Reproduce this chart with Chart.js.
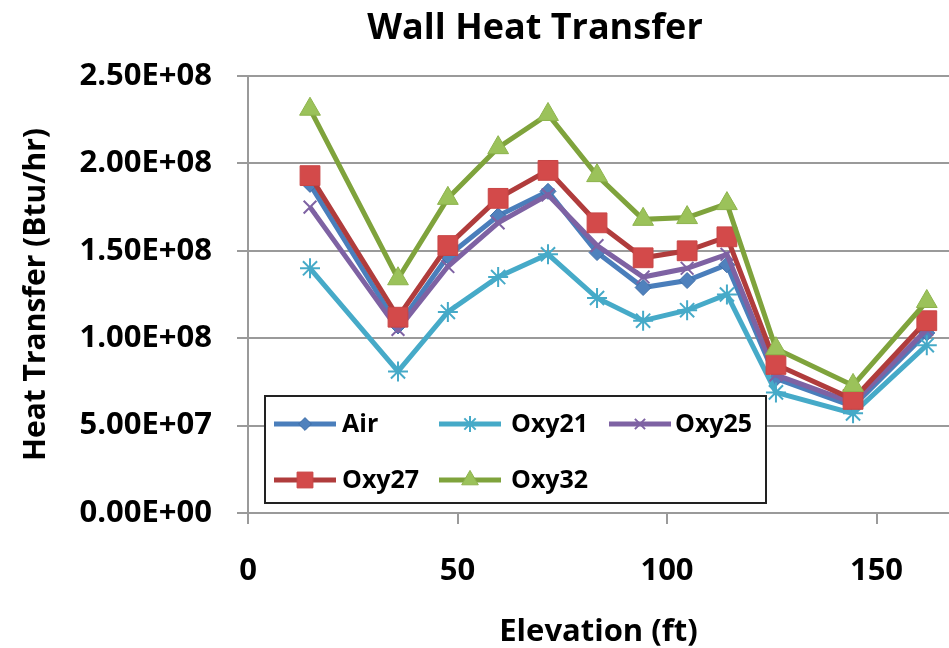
<!DOCTYPE html>
<html>
<head>
<meta charset="utf-8">
<script src="https://cdn.jsdelivr.net/npm/chart.js@4.4.1/dist/chart.umd.min.js"></script>
<style>
  body { margin: 0; background: #fff; }
  #wrap { width: 949px; height: 648px; }
</style>
</head>
<body>
<div id="wrap"><canvas id="wallHeat"></canvas></div>
<script>
const cvsWall = document.getElementById("wallHeat");

// elevation (ft) of each measuring point
const elevacao = [14.8, 35.8, 47.7, 59.7, 71.6, 83.3, 94.3, 104.8, 114.3, 126.0, 144.4, 162.0];

// heat transfer (Btu/hr) per case
const air   = [1.88e8, 1.07e8, 1.47e8, 1.70e8, 1.84e8, 1.49e8, 1.29e8, 1.33e8, 1.42e8, 0.77e8, 0.61e8, 1.03e8];
const oxy21 = [1.40e8, 0.81e8, 1.15e8, 1.35e8, 1.48e8, 1.23e8, 1.10e8, 1.16e8, 1.25e8, 0.69e8, 0.57e8, 0.96e8];
const oxy25 = [1.75e8, 1.05e8, 1.41e8, 1.66e8, 1.82e8, 1.53e8, 1.35e8, 1.40e8, 1.48e8, 0.79e8, 0.63e8, 1.05e8];
const oxy27 = [1.93e8, 1.12e8, 1.53e8, 1.80e8, 1.96e8, 1.66e8, 1.46e8, 1.50e8, 1.58e8, 0.85e8, 0.65e8, 1.10e8];
const oxy32 = [2.31e8, 1.34e8, 1.80e8, 2.09e8, 2.28e8, 1.93e8, 1.68e8, 1.69e8, 1.77e8, 0.94e8, 0.73e8, 1.21e8];

const nomes = ["Air", "Oxy21", "Oxy25", "Oxy27", "Oxy32"];
const titulo = "Wall Heat Transfer";

const FONTE = "'Open Sans'";

const pares = (ys) => ys.map((y, i) => ({ x: elevacao[i], y }));

// 2.50E+08 style
const sci = (v) => {
  const [m, e] = Number(v).toExponential(2).split("e");
  return m + "E" + e[0] + e.slice(1).padStart(2, "0");
};

// title sits a bit right of the canvas centre in the original
const tituloTopo = {
  id: "tituloTopo",
  afterDraw(chart) {
    const { ctx } = chart;
    ctx.save();
    ctx.fillStyle = "#000";
    ctx.font = "bold 36px " + FONTE;
    ctx.textAlign = "center";
    ctx.textBaseline = "middle";
    ctx.fillText(titulo, 535, 29);
    ctx.restore();
  }
};

// legend drawn inside the plot, like the excel one
const legendaBox = {
  id: "legendaBox",
  afterDraw(chart) {
    const { ctx } = chart;
    const box = { x: 265, y: 396, w: 501, h: 107 };
    ctx.save();
    ctx.fillStyle = "#fff";
    ctx.fillRect(box.x, box.y, box.w, box.h);
    ctx.lineWidth = 2;
    ctx.strokeStyle = "#222";
    ctx.strokeRect(box.x, box.y, box.w, box.h);

    // [line start, text start, y]
    const slots = [
      [274, 342, 424], [439, 511, 424], [609, 675, 424],
      [274, 342, 480], [439, 511, 480],
    ];
    chart.data.datasets.forEach((ds, i) => {
      const [sx, tx, sy] = slots[i];
      ctx.strokeStyle = ds.borderColor;
      ctx.lineWidth = 5;
      ctx.beginPath();
      ctx.moveTo(sx, sy);
      ctx.lineTo(sx + 62, sy);
      ctx.stroke();

      ctx.fillStyle = ds.pointBackgroundColor;
      ctx.strokeStyle = ds.pointBorderColor;
      ctx.lineWidth = ds.pointBorderWidth;
      Chart.helpers.drawPoint(ctx, {
        pointStyle: ds.pointStyle,
        radius: ds.pointRadius * 0.8,
        borderWidth: ds.pointBorderWidth,
        rotation: 0,
      }, sx + 31, sy);

      ctx.fillStyle = "#000";
      ctx.font = "bold 25px " + FONTE;
      ctx.textBaseline = "middle";
      ctx.fillText(ds.label, tx, sy + 1);
    });
    ctx.restore();
  }
};

new Chart(cvsWall, {
  type: "line",
  plugins: [legendaBox, tituloTopo],
  data: {
    datasets: [
      {
        label: nomes[0],
        data: pares(air),
        borderColor: "#4a7ebb",
        borderWidth: 5,
        pointStyle: "rectRot",
        pointRadius: 8,
        pointBackgroundColor: "#4f81bd",
        pointBorderColor: "#3f6fa8",
        pointBorderWidth: 1,
        order: 5,
      },
      {
        label: nomes[1],
        data: pares(oxy21),
        borderColor: "#46aac8",
        borderWidth: 5,
        pointStyle: "star",
        pointRadius: 10,
        pointBackgroundColor: "#46aac8",
        pointBorderColor: "#46aac8",
        pointBorderWidth: 2,
        order: 4,
      },
      {
        label: nomes[2],
        data: pares(oxy25),
        borderColor: "#7e62a3",
        borderWidth: 5,
        pointStyle: "crossRot",
        pointRadius: 9,
        pointBackgroundColor: "#7e62a3",
        pointBorderColor: "#7e62a3",
        pointBorderWidth: 2,
        order: 3,
      },
      {
        label: nomes[3],
        data: pares(oxy27),
        borderColor: "#b03c3c",
        borderWidth: 5,
        pointStyle: "rect",
        pointRadius: 14,
        pointBackgroundColor: "#d34a4a",
        pointBorderColor: "#c84545",
        pointBorderWidth: 1,
        order: 2,
      },
      {
        label: nomes[4],
        data: pares(oxy32),
        borderColor: "#7fa33c",
        borderWidth: 5,
        pointStyle: "triangle",
        pointRadius: 12,
        pointBackgroundColor: "#9bc25a",
        pointBorderColor: "#8db34c",
        pointBorderWidth: 1,
        order: 1,
      },
    ],
  },

  options: {
    responsive: true,
    maintainAspectRatio: false,
    animation: false,
    layout: { padding: { top: 76, left: 0, right: 0, bottom: 0 }, autoPadding: false },

    plugins: {
      legend: { display: false },
      tooltip: { enabled: false },
      title: { display: false },
    },

    scales: {
      x: {
        type: "linear",
        min: 0,
        max: 167.3,
        afterFit: (s) => { s.height = 135; s.paddingLeft = 0; s.paddingRight = 0; },
        ticks: {
          stepSize: 50,
          includeBounds: false,
          color: "#000",
          padding: 29,
          font: { size: 31, weight: "bold", family: FONTE },
        },
        grid: { drawOnChartArea: false, tickLength: 11, color: "#9a9a9a", lineWidth: 2 },
        border: { color: "#9a9a9a", width: 2 },
        title: {
          display: true,
          text: "Elevation (ft)",
          color: "#000",
          font: { size: 31, weight: "bold", family: FONTE, lineHeight: 1.0 },
          padding: { top: 0, bottom: 0 },
        },
      },
      y: {
        min: 0,
        max: 2.5e8,
        afterFit: (s) => { s.width = 248; s.paddingTop = 0; s.paddingBottom = 0; },
        ticks: {
          stepSize: 5e7,
          color: "#000",
          padding: 25,
          callback: (v) => sci(v),
          font: { size: 31, weight: "bold", family: FONTE },
        },
        grid: { color: "#9a9a9a", lineWidth: 2, tickLength: 11 },
        border: { color: "#9a9a9a", width: 2 },
        title: {
          display: true,
          text: "Heat Transfer (Btu/hr)",
          color: "#000",
          font: { size: 30, weight: "bold", family: FONTE },
          padding: { top: 18, bottom: 0 },
        },
      },
    },
  },
});
</script>
</body>
</html>
